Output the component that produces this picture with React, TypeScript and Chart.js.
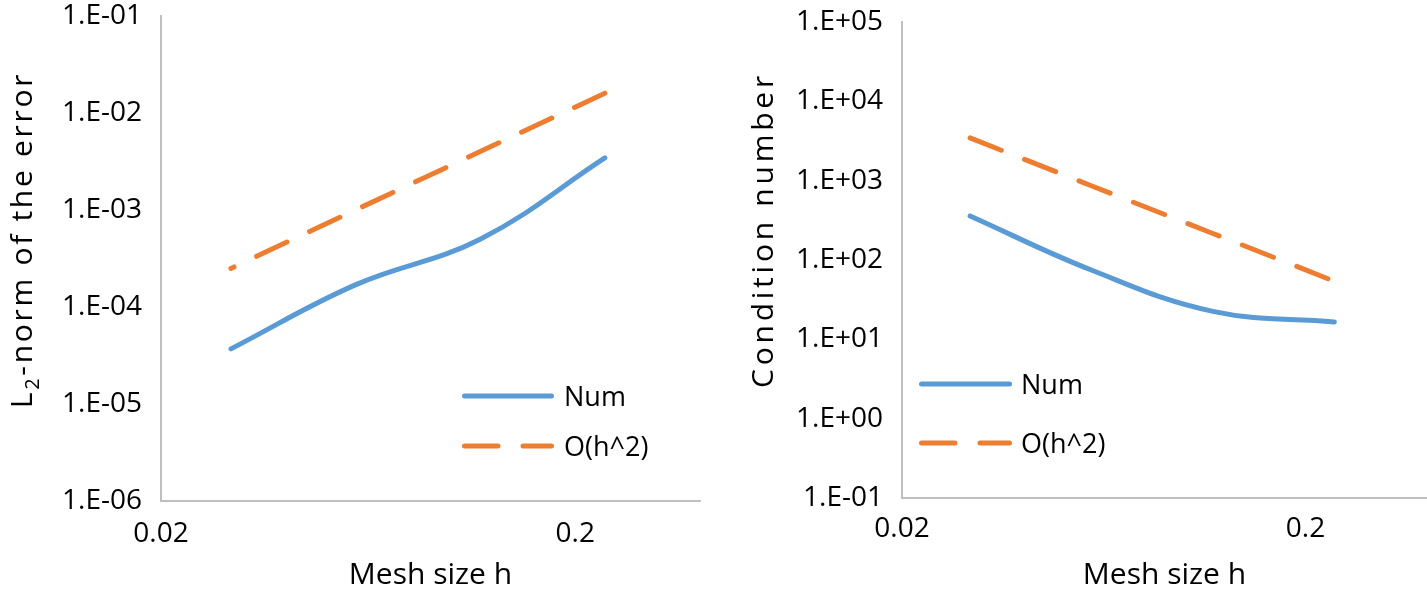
import React, { useEffect, useRef } from "react";
import { Chart, registerables } from "chart.js";

Chart.register(...registerables);

// ---- data ----
const meshSizes = [0.2357, 0.1179, 0.0589, 0.0295];
const errorNum = [3.44e-3, 5.0e-4, 1.69e-4, 3.7e-5];
const errorRef = [1.6e-2, 4.0e-3, 1.0e-3, 2.5e-4];
const condNum = [16.5, 22.5, 74.8, 359];
const condRef = [54, 216, 864, 3456];
const xTickValues = [0.02, 0.2];
const errorTicks = [1e-6, 1e-5, 1e-4, 1e-3, 1e-2, 1e-1];
const condTicks = [1e-1, 1, 10, 100, 1000, 1e4, 1e5];
const seriesLabels = ["Num", "O(h^2)"];
const xTitle = "Mesh size h";

const FONT = "'Open Sans', sans-serif";
const BLUE = "#5B9BD5";
const ORANGE = "#ED7D31";
const AXIS = "#BFBFBF";
const TEXT = "#000000";

const sci = (v: number) => {
  const e = Math.round(Math.log10(v));
  return "1.E" + (e < 0 ? "-" : "+") + String(Math.abs(e)).padStart(2, "0");
};

const overlayPlugin = {
  id: "overlay",
  afterDraw(chart: any, _args: any, opts: any) {
    const ctx = chart.ctx as CanvasRenderingContext2D;
    ctx.save();
    const L = opts.legend;
    chart.data.datasets.forEach((ds: any, i: number) => {
      const y = L.y[i];
      const hw = ds.borderWidth / 2;
      ctx.beginPath();
      ctx.strokeStyle = ds.borderColor;
      ctx.lineWidth = ds.borderWidth;
      ctx.lineCap = "round";
      ctx.setLineDash(ds.borderDash || []);
      ctx.moveTo(L.x + hw, y);
      ctx.lineTo(L.x + L.len - hw, y);
      ctx.stroke();
      ctx.setLineDash([]);
      ctx.fillStyle = TEXT;
      ctx.font = `${L.size}px ${FONT}`;
      ctx.textAlign = "left";
      ctx.textBaseline = "alphabetic";
      ctx.fillText(ds.label, L.x + L.len + L.gap, y + 0.357 * L.size);
    });

    const T = opts.yTitle;
    ctx.translate(T.x, T.y);
    ctx.rotate(-Math.PI / 2);
    (ctx as any).letterSpacing = T.spacing + "px";
    ctx.fillStyle = TEXT;
    ctx.textAlign = "left";
    ctx.textBaseline = "alphabetic";
    const bigFont = `${T.size}px ${FONT}`;
    const subFont = `${Math.round(T.size * 0.65)}px ${FONT}`;
    const widths = T.parts.map((p: any) => {
      ctx.font = p[1] ? subFont : bigFont;
      return ctx.measureText(p[0]).width;
    });
    const total = widths.reduce((a: number, b: number) => a + b, 0);
    let cx = -total / 2;
    T.parts.forEach((p: any, i: number) => {
      ctx.font = p[1] ? subFont : bigFont;
      ctx.fillText(p[0], cx, p[1] ? T.size * 0.22 : 0);
      cx += widths[i];
    });
    (ctx as any).letterSpacing = "0px";
    ctx.restore();
  },
};

function buildConfig(p: any) {
  return {
    type: "line",
    data: {
      datasets: [
        {
          label: seriesLabels[0],
          data: p.xs.map((x: number, i: number) => ({ x, y: p.num[i] })),
          borderColor: BLUE,
          backgroundColor: BLUE,
          borderWidth: 5,
          pointRadius: 0,
          tension: 0.4,
          borderCapStyle: "round",
          borderJoinStyle: "round",
          fill: false,
        },
        {
          label: seriesLabels[1],
          data: p.xs.map((x: number, i: number) => ({ x, y: p.ref[i] })),
          borderColor: ORANGE,
          backgroundColor: ORANGE,
          borderWidth: 5,
          borderDash: [33.5, 25],
          pointRadius: 0,
          tension: 0,
          borderCapStyle: "round",
          fill: false,
        },
      ],
    },
    options: {
      animation: false,
      responsive: false,
      events: [],
      layout: { padding: { left: 0, right: p.padRight, top: p.padTop, bottom: 0 } },
      plugins: {
        legend: { display: false },
        tooltip: { enabled: false },
        overlay: { legend: p.legend, yTitle: p.yTitle },
      },
      scales: {
        x: {
          type: "logarithmic",
          min: 0.02,
          max: 0.4,
          grid: { display: false, drawTicks: false },
          border: { display: true, color: AXIS, width: 2 },
          ticks: {
            font: { family: FONT, size: 28 },
            color: TEXT,
            padding: p.xTickPad,
            maxRotation: 0,
            autoSkip: false,
            callback: (v: any) => String(v),
          },
          afterBuildTicks: (s: any) => {
            s.ticks = xTickValues.map((v) => ({ value: v }));
          },
          afterFit: (s: any) => {
            s.height = p.xHeight;
            s.paddingLeft = 0;
            s.paddingRight = 0;
          },
          title: {
            display: true,
            text: xTitle,
            color: TEXT,
            font: { family: FONT, size: 30 },
            padding: { top: 0, bottom: 1.5 },
          },
        },
        y: {
          type: "logarithmic",
          min: p.yTicks[0],
          max: p.yTicks[p.yTicks.length - 1],
          grid: { display: false, drawTicks: false },
          border: { display: true, color: AXIS, width: 2 },
          ticks: {
            font: { family: FONT, size: 28 },
            color: TEXT,
            padding: 19,
            autoSkip: false,
            callback: (v: any) => sci(Number(v)),
          },
          afterBuildTicks: (s: any) => {
            s.ticks = p.yTicks.map((v: number) => ({ value: v }));
          },
          afterFit: (s: any) => {
            s.width = p.yWidth;
            s.paddingTop = 0;
            s.paddingBottom = 0;
          },
        },
      },
    },
    plugins: [overlayPlugin],
  };
}

function ChartCanvas({ config, left, width }: any) {
  const ref = useRef<HTMLCanvasElement | null>(null);
  useEffect(() => {
    if (!ref.current) return;
    const chart = new Chart(ref.current, config);
    return () => chart.destroy();
  }, []);
  return (
    <canvas
      ref={ref}
      width={width}
      height={595}
      style={{ position: "absolute", left, top: 0, width, height: 595, display: "block" }}
    />
  );
}

export default function App() {
  const leftConfig = buildConfig({
    xs: meshSizes,
    num: errorNum,
    ref: errorRef,
    yTicks: errorTicks,
    yWidth: 161,
    xHeight: 94,
    padTop: 16,
    padRight: 13,
    xTickPad: 16,
    legend: { x: 462, y: [396, 446], len: 92, gap: 10, size: 27 },
    yTitle: { x: 32, y: 240, size: 30, spacing: 2.7, parts: [["L", false], ["2", true], ["-norm of the error", false]] },
  });
  const rightConfig = buildConfig({
    xs: [...meshSizes].reverse(),
    num: [...condNum].reverse(),
    ref: [...condRef].reverse(),
    yTicks: condTicks,
    yWidth: 189,
    xHeight: 97,
    padTop: 22,
    padRight: 0,
    xTickPad: 14,
    legend: { x: 206, y: [384, 443], len: 93, gap: 9, size: 27 },
    yTitle: { x: 60, y: 230, size: 30, spacing: 3.75, parts: [["Condition number", false]] },
  });
  return (
    <div style={{ position: "absolute", left: 0, top: 0, width: 1427, height: 595, background: "#fff", overflow: "hidden" }}>
      <ChartCanvas config={leftConfig} left={0} width={713} />
      <ChartCanvas config={rightConfig} left={713} width={714} />
    </div>
  );
}
